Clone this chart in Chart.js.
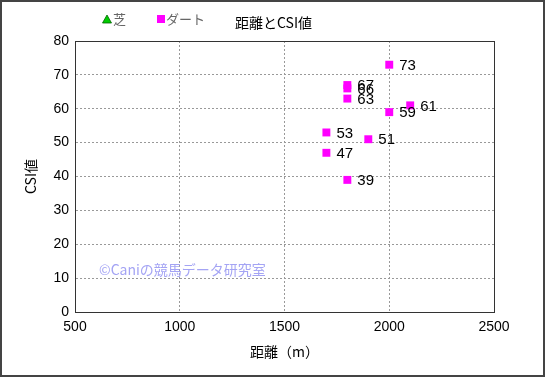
<!DOCTYPE html>
<html><head><meta charset="utf-8">
<script src="https://cdn.jsdelivr.net/npm/chart.js@4.4.0/dist/chart.umd.min.js"></script>
<style>
html,body{margin:0;padding:0;background:#fff;}
#wrap{position:relative;width:545px;height:377px;box-sizing:border-box;border:2px solid #444;}
canvas{display:block;}
</style></head>
<body><div id="wrap"><canvas id="c" width="541" height="373"></canvas></div>
<script>
const chartTitle = '距離とCSI値';
const xTitle = '距離（m）';
const yTitle = 'CSI値';
const watermark = '©Caniの競馬データ研究室';
const seriesNames = ['芝', 'ダート'];
const turfDistance = [];
const turfCSI = [];
const dirtDistance = [2000, 1800, 1800, 1800, 2100, 2000, 1700, 1900, 1700, 1800];
const dirtCSI = [73, 67, 66, 63, 61, 59, 53, 51, 47, 39];
const xTicks = [500, 1000, 1500, 2000, 2500];
const yTicks = [0, 10, 20, 30, 40, 50, 60, 70, 80];

const JP = '"Noto Sans CJK JP", "Noto Sans", sans-serif';
const LAT = '"Liberation Sans", Arial, sans-serif';

function pts(xs, ys){ return xs.map((x,i)=>({x:x, y:ys[i]})); }

const headerPlugin = {
  id:'header',
  afterDraw(chart){
    const ctx = chart.ctx;
    ctx.save();
    ctx.font = '13px ' + JP;
    ctx.textBaseline = 'middle';
    ctx.textAlign = 'left';
    ctx.fillStyle = '#00cc00';
    ctx.strokeStyle = '#006600';
    ctx.lineWidth = 0.8;
    ctx.beginPath();
    ctx.moveTo(105, 13); ctx.lineTo(109.5, 21); ctx.lineTo(100.5, 21); ctx.closePath();
    ctx.fill(); ctx.stroke();
    ctx.fillStyle = '#666';
    ctx.fillText(seriesNames[0], 111, 17);
    ctx.fillStyle = '#ff00ff';
    ctx.fillRect(155, 13, 8, 8);
    ctx.fillStyle = '#666';
    ctx.fillText(seriesNames[1], 164, 17);
    ctx.fillStyle = '#000';
    ctx.font = '14px ' + JP;
    ctx.fillText(chartTitle, 233, 21);
    ctx.font = '14px ' + JP;
    ctx.fillStyle = '#a4a4f4';
    ctx.fillText(watermark, 97, 268);
    ctx.restore();
  },
  afterDatasetsDraw(chart){
    const ctx = chart.ctx;
    ctx.save();
    ctx.font = '15px ' + LAT;
    ctx.fillStyle = '#000';
    ctx.textBaseline = 'middle';
    ctx.textAlign = 'left';
    chart.data.datasets.forEach((ds, di)=>{
      const meta = chart.getDatasetMeta(di);
      meta.data.forEach((el, i)=>{
        ctx.fillText(String(ds.data[i].y), el.x + 10, el.y + 1);
      });
    });
    ctx.restore();
  }
};

new Chart(document.getElementById('c'), {
  type:'scatter',
  data:{ datasets:[
    {label:seriesNames[0], data:pts(turfDistance, turfCSI), pointStyle:'triangle', backgroundColor:'#00cc00', borderColor:'#006600', pointRadius:5},
    {label:seriesNames[1], data:pts(dirtDistance, dirtCSI), pointStyle:'rect', backgroundColor:'#ff00ff', borderColor:'#ff00ff', borderWidth:0, pointRadius:5.6, pointHoverRadius:5.6}
  ]},
  options:{
    responsive:false, animation:false, events:[],
    layout:{padding:{top:39, right:49, left:16, bottom:11}},
    plugins:{legend:{display:false}, title:{display:false}, tooltip:{enabled:false}},
    scales:{
      x:{type:'linear', min:500, max:2500,
        afterBuildTicks(s){ s.ticks = xTicks.map(v=>({value:v})); },
        afterFit(s){ s.height = 52; },
        grid:{color:'#999', drawTicks:false, tickLength:0, lineWidth:1},
        border:{display:true, color:'#333', width:1, dash:[2,2]},
        ticks:{padding:7, color:'#000', font:{size:14, family:LAT}, maxRotation:0, callback:v=>String(v)},
        title:{display:true, text:xTitle, color:'#000', font:{size:14, family:JP}, padding:{top:4}}
      },
      y:{type:'linear', min:0, max:80,
        afterBuildTicks(s){ s.ticks = yTicks.map(v=>({value:v})); },
        afterFit(s){ s.width = 57; },
        grid:{color:'#999', drawTicks:false, tickLength:0, lineWidth:1},
        border:{display:true, color:'#333', width:1, dash:[2,2]},
        ticks:{padding:6, color:'#000', font:{size:14, family:LAT}, callback:v=>String(v)},
        title:{display:true, text:yTitle, color:'#000', font:{size:14, family:JP}, padding:{bottom:0}}
      }
    }
  },
  plugins:[headerPlugin, {
    id:'frame',
    beforeDatasetsDraw(chart){
      const {left,right,top,bottom} = chart.chartArea;
      const ctx = chart.ctx;
      ctx.save();
      ctx.strokeStyle = '#333'; ctx.lineWidth = 1;
      ctx.strokeRect(Math.round(left)+0.5, Math.round(top)+0.5, Math.round(right-left), Math.round(bottom-top));
      ctx.restore();
    }
  }]
});
</script>
</body></html>
